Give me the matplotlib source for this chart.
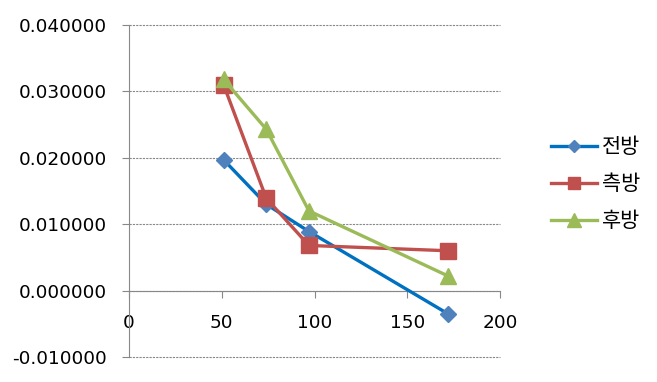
import matplotlib
matplotlib.use("Agg")
import matplotlib.pyplot as plt
from matplotlib.ticker import FormatStrFormatter

plt.rcParams['font.family'] = ['DejaVu Sans']

x = [51, 74, 97, 172]
front = [0.0197, 0.0130, 0.0089, -0.0035]
side = [0.0310, 0.0139, 0.0068, 0.0060]
back = [0.0318, 0.0243, 0.0120, 0.0022]
labels = ['전방', '측방', '후방']

fig = plt.figure(figsize=(6.57, 3.82), dpi=100)
ax = fig.add_axes([129/657, 1-357/382, (500-129)/657, (357-25)/382])

ax.plot(x, front, color='#0070C0', lw=2.4, marker='D', ms=8,
        mfc='#4F81BD', mec='#4F81BD', label=labels[0], zorder=3)
ax.plot(x, side, color='#C0504D', lw=2.4, marker='s', ms=11,
        mfc='#C0504D', mec='#C0504D', label=labels[1], zorder=3)
ax.plot(x, back, color='#9BBB59', lw=2.4, marker='^', ms=12,
        mfc='#9BBB59', mec='#9BBB59', label=labels[2], zorder=3)

ax.set_xlim(0, 200)
ax.set_ylim(-0.01, 0.04)
ax.set_xticks([0, 50, 100, 150, 200])
ax.set_yticks([-0.01, 0, 0.01, 0.02, 0.03, 0.04])
ax.yaxis.set_major_formatter(FormatStrFormatter('%.6f'))

ax.grid(axis='y', color='#888888', ls=(0, (2, 1)), lw=0.8)
for g in ax.get_ygridlines():
    g.set_clip_on(False)
ax.set_axisbelow(True)
for s in ['top', 'right']:
    ax.spines[s].set_visible(False)
ax.spines['bottom'].set_position(('data', 0))
ax.spines['bottom'].set_color('#888888')
ax.spines['left'].set_color('#888888')
ax.tick_params(axis='both', colors='#888888', labelcolor='black', labelsize=13.3, length=5)
ax.tick_params(axis='x', pad=12)
ax.tick_params(axis='y', pad=11)

ax.legend(loc='center left', bbox_to_anchor=(551/657, 1-184/382), bbox_transform=fig.transFigure,
          frameon=False, prop={'family': ['Noto Sans CJK KR', 'DejaVu Sans'], 'size': 15},
          handlelength=2.2, labelspacing=0.72, handletextpad=0.25, markerscale=0.8,
          borderaxespad=0, borderpad=0)

fig.savefig('out.png', dpi=100)
